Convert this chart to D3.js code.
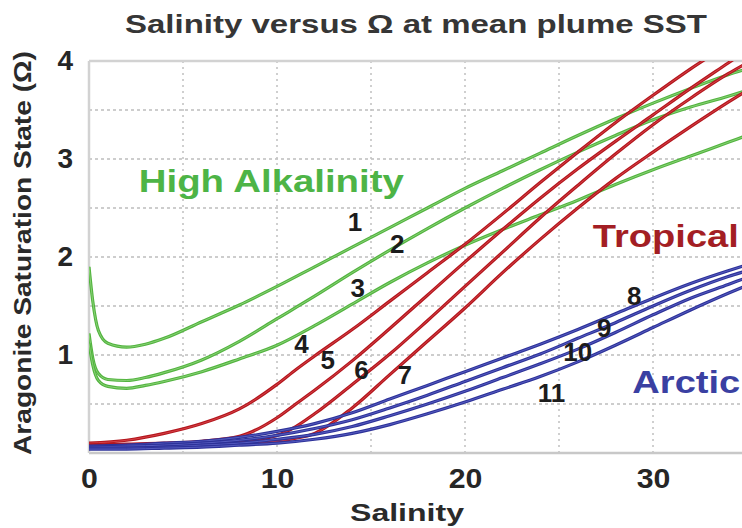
<!DOCTYPE html>
<html><head><meta charset="utf-8">
<script src="https://cdn.jsdelivr.net/npm/d3@7"></script>
<style>
body{margin:0;background:#fff;}
text{font-family:"Liberation Sans",Arial,Helvetica,sans-serif;font-weight:bold;}
</style>
</head><body>
<svg id="c" width="742" height="528"></svg>
<script>
// ---------- data ----------
const titleText = "Salinity versus  \u03A9 at mean plume SST";
const xLabel = "Salinity";
const yLabel = "Aragonite Saturation State (\u03A9)";
const xTickValues = [0, 10, 20, 30];
const yTickValues = [1, 2, 3, 4];
const xGridValues = [5, 10, 15, 20, 25, 30];
const yGridValues = [0.5, 1, 1.5, 2, 2.5, 3, 3.5];

// High Alkalinity (green) curves 1-3
const greenS = [0, 0.2, 0.5, 1, 2, 3, 4, 6, 8, 10, 12, 14, 16, 18, 20, 22, 24, 26, 28, 30, 32, 34, 35];
const green1 = [1.9, 1.55, 1.25, 1.12, 1.08, 1.11, 1.17, 1.34, 1.51, 1.7, 1.9, 2.1, 2.3, 2.5, 2.7, 2.88, 3.06, 3.24, 3.41, 3.57, 3.72, 3.86, 3.92];
const green2 = [1.22, 0.97, 0.81, 0.75, 0.74, 0.77, 0.82, 0.95, 1.14, 1.37, 1.6, 1.84, 2.07, 2.29, 2.5, 2.7, 2.89, 3.07, 3.24, 3.4, 3.53, 3.64, 3.7];
const green3 = [1.12, 0.9, 0.74, 0.68, 0.66, 0.69, 0.73, 0.83, 0.96, 1.1, 1.3, 1.52, 1.74, 1.94, 2.12, 2.28, 2.43, 2.58, 2.74, 2.89, 3.03, 3.17, 3.24];

// Tropical (red) curves 4-7
const redS = [0, 2, 4, 6, 8, 10, 11, 12, 14, 16, 18, 20, 22, 24, 26, 28, 30, 32, 34, 35];
const red4 = [0.1, 0.13, 0.2, 0.3, 0.45, 0.7, 0.85, 0.99, 1.26, 1.55, 1.84, 2.13, 2.44, 2.76, 3.07, 3.37, 3.65, 3.92, 4.17, 4.3];
const red5 = [0.08, 0.09, 0.1, 0.12, 0.17, 0.36, 0.5, 0.64, 0.94, 1.27, 1.61, 1.95, 2.28, 2.6, 2.9, 3.18, 3.45, 3.72, 3.98, 4.11];
const red6 = [0.07, 0.08, 0.09, 0.1, 0.12, 0.18, 0.27, 0.4, 0.7, 1.01, 1.35, 1.7, 2.05, 2.4, 2.73, 3.05, 3.35, 3.62, 3.87, 3.98];
const red7 = [0.06, 0.07, 0.08, 0.09, 0.1, 0.12, 0.15, 0.2, 0.46, 0.8, 1.14, 1.48, 1.84, 2.18, 2.5, 2.8, 3.07, 3.33, 3.58, 3.7];

// Arctic (blue) curves 8-11
const blueS = [0, 2, 4, 6, 8, 10, 12, 14, 16, 18, 20, 22, 24, 26, 28, 30, 32, 34, 35];
const blue8  = [0.07, 0.08, 0.1, 0.12, 0.16, 0.22, 0.3, 0.41, 0.55, 0.69, 0.83, 0.97, 1.11, 1.26, 1.42, 1.58, 1.73, 1.86, 1.92];
const blue9  = [0.06, 0.07, 0.08, 0.1, 0.13, 0.18, 0.25, 0.34, 0.46, 0.59, 0.73, 0.87, 1.01, 1.17, 1.33, 1.5, 1.66, 1.8, 1.86];
const blue10 = [0.05, 0.05, 0.06, 0.08, 0.1, 0.14, 0.19, 0.27, 0.38, 0.5, 0.63, 0.77, 0.91, 1.06, 1.23, 1.41, 1.58, 1.72, 1.79];
const blue11 = [0.04, 0.04, 0.05, 0.06, 0.08, 0.1, 0.14, 0.2, 0.29, 0.4, 0.52, 0.65, 0.78, 0.93, 1.1, 1.28, 1.46, 1.63, 1.71];

// curve number labels [text, salinity, omega]
const numLabels = [["1",14.15,2.36],["2",16.4,2.14],["3",14.3,1.69],["4",11.3,1.12],["5",12.7,0.95],
  ["6",14.5,0.85],["7",16.8,0.80],["8",29.0,1.61],["9",27.4,1.28],["10",26.0,1.03],["11",24.6,0.62]];
// group labels [text, salinity, omega(baseline), colour, width]
const groupLabels = [["High Alkalinity",2.65,2.66,"#4db446",265],["Tropical",26.8,2.1,"#a31e24",146],["Arctic",28.9,0.61,"#3a40a2",108]];

// ---------- drawing ----------
const svg = d3.select("#c");
const x = d3.scaleLinear().domain([0, 35]).range([89, 747]);
const y = d3.scaleLinear().domain([0, 4]).range([453, 61]);

function stretch(sel, k){
  sel.each(function(){
    const L = this.getComputedTextLength();
    d3.select(this).attr("textLength", L*k).attr("lengthAdjust","spacingAndGlyphs");
  });
}

svg.append("defs").append("clipPath").attr("id","clip")
  .append("rect").attr("x", x(0)).attr("y", y(4)).attr("width", 742 - x(0)).attr("height", y(0)-y(4));

// grid
const grid = svg.append("g");
grid.selectAll(".hg").data(yGridValues).join("line")
  .attr("x1", x(0)).attr("x2", 742).attr("y1", d=>y(d)).attr("y2", d=>y(d))
  .attr("stroke","#bdbdbd").attr("stroke-width",1.6).attr("stroke-dasharray","3,3");
grid.selectAll(".vg").data(xGridValues).join("line")
  .attr("y1", y(4)).attr("y2", y(0)).attr("x1", d=>x(d)).attr("x2", d=>x(d))
  .attr("stroke","#c4c4c4").attr("stroke-width",1.6).attr("stroke-dasharray","2,4");

// frame
svg.append("line").attr("x1",x(0)).attr("x2",742).attr("y1",y(4)).attr("y2",y(4)).attr("stroke","#d2d2d2").attr("stroke-width",2.5);
svg.append("line").attr("x1",x(0)).attr("x2",742).attr("y1",y(0)).attr("y2",y(0)).attr("stroke","#c8c8c8").attr("stroke-width",2.5);
svg.append("line").attr("x1",x(0)).attr("x2",x(0)).attr("y1",y(4)).attr("y2",y(0)).attr("stroke","#d2d2d2").attr("stroke-width",2.5);

// axes
const xAxis = svg.append("g").attr("transform",`translate(0,${y(0)})`)
  .call(d3.axisBottom(x).tickValues(xTickValues).tickSize(0).tickPadding(15).tickFormat(d3.format("d")));
xAxis.select(".domain").remove();
xAxis.selectAll("text").attr("font-size",28).attr("fill","#262626");
const yAxis = svg.append("g").attr("transform",`translate(${x(0)},0)`)
  .call(d3.axisLeft(y).tickValues(yTickValues).tickSize(0).tickPadding(16).tickFormat(d3.format("d")));
yAxis.select(".domain").remove();
yAxis.selectAll("text").attr("font-size",28).attr("fill","#262626");
stretch(xAxis.selectAll("text"), 1.08);

// lines
const plot = svg.append("g").attr("clip-path","url(#clip)");
const line = d3.line().x(d=>x(d[0])).y(d=>y(d[1])).curve(d3.curveMonotoneX);
function series(S, V, outer, inner){
  const pts = S.map((s,i)=>[s,V[i]]);
  plot.append("path").datum(pts).attr("d",line).attr("fill","none").attr("stroke",outer).attr("stroke-width",3.2).attr("stroke-linejoin","round");
  plot.append("path").datum(pts).attr("d",line).attr("fill","none").attr("stroke",inner).attr("stroke-width",0.9);
}
[green1, green2, green3].forEach(v=>series(greenS, v, "#52b43f", "#8fd47c"));
[red4, red5, red6, red7].forEach(v=>series(redS, v, "#b3161d", "#d9454b"));
[blue8, blue9, blue10, blue11].forEach(v=>series(blueS, v, "#2d3299", "#5a60c4"));

// number labels
svg.append("g").selectAll("text").data(numLabels).join("text")
  .attr("x", d=>x(d[1])).attr("y", d=>y(d[2])).attr("dy","0.36em")
  .attr("text-anchor","middle").attr("font-size",26).attr("fill","#1c1c1c").text(d=>d[0]);

// group labels
svg.append("g").selectAll("text").data(groupLabels).join("text")
  .attr("x", d=>x(d[1])).attr("y", d=>y(d[2]))
  .attr("font-size",32).attr("fill",d=>d[3]).text(d=>d[0])
  .attr("textLength", d=>d[4]).attr("lengthAdjust","spacingAndGlyphs");

// title and axis labels
svg.append("text").attr("x",125).attr("y",33).attr("font-size",25).attr("fill","#363636")
  .attr("textLength",582).attr("lengthAdjust","spacingAndGlyphs").text(titleText);
svg.append("text").attr("x",407).attr("y",521).attr("text-anchor","middle").attr("font-size",23).attr("fill","#2a2a2a")
  .attr("textLength",114).attr("lengthAdjust","spacingAndGlyphs").text(xLabel);
svg.append("text").attr("transform","translate(31,253) rotate(-90)").attr("text-anchor","middle")
  .attr("font-size",23).attr("fill","#2a2a2a").attr("textLength",404).attr("lengthAdjust","spacingAndGlyphs").text(yLabel);
</script>
</body></html>
